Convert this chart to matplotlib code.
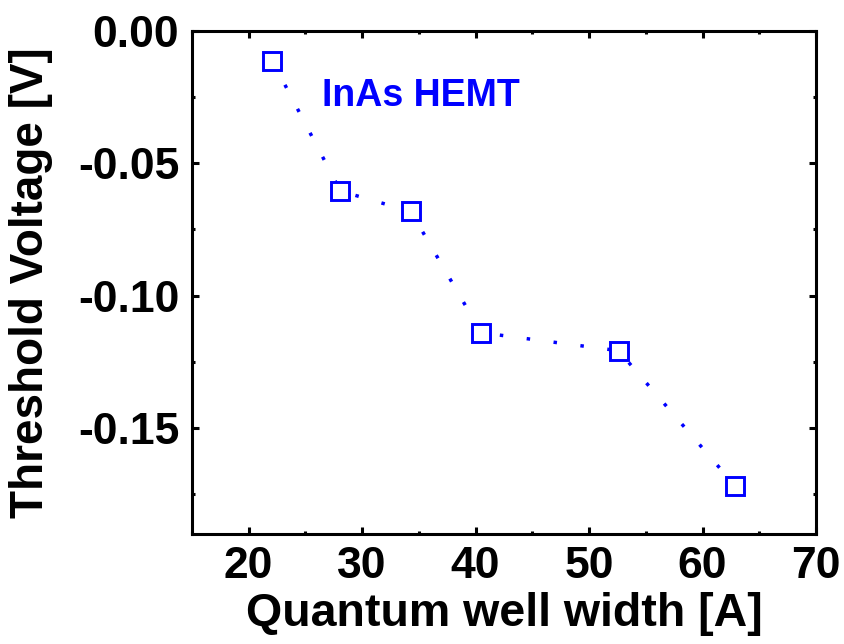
import numpy as np
import matplotlib
matplotlib.use("Agg")
import matplotlib.pyplot as plt
from matplotlib.ticker import MultipleLocator

# quantum well width [A] vs threshold voltage [V]
well_width = [22.1, 28.1, 34.3, 40.5, 52.6, 62.9]
v_th = [-0.0113, -0.0605, -0.0682, -0.114, -0.1208, -0.172]

plt.rcParams['font.family'] = ['Liberation Sans', 'DejaVu Sans']
plt.rcParams['font.weight'] = 'bold'

fig = plt.figure(figsize=(8.45, 6.44), dpi=100)
ax = fig.add_axes([0.227, 0.171, 0.7387, 0.781])

ax.plot(well_width, v_th, color="blue", linewidth=2.5, linestyle=(0, (1, 6.8)),
        marker="s", markersize=13, markeredgewidth=2.1, markerfacecolor="white",
        markeredgecolor="blue")

ax.text(0.208, 0.8515, "InAs HEMT", transform=ax.transAxes, color="blue",
        fontsize=27, fontweight="bold", va="baseline", ha="left")

ax.set_xlim(15, 70)
ax.set_ylim(-0.19, 0.0)
ax.xaxis.set_major_locator(MultipleLocator(10))
ax.xaxis.set_minor_locator(MultipleLocator(5))
ax.yaxis.set_major_locator(MultipleLocator(0.05))
ax.yaxis.set_minor_locator(MultipleLocator(0.025))
ax.set_yticks([0.0, -0.05, -0.10, -0.15])
ax.set_yticklabels(["0.00", "-0.05", "-0.10", "-0.15"])

ax.tick_params(which="both", direction="in", top=True, right=True, width=2.2)
ax.tick_params(which="major", length=5, labelsize=32, pad=9)
ax.tick_params(which="minor", length=2.5)
for s in ax.spines.values():
    s.set_linewidth(2.2)

ax.set_xlabel("Quantum well width [A]", fontsize=33.5, fontweight="bold")
ax.set_ylabel("Threshold Voltage [V]", fontsize=33, fontweight="bold")
ax.xaxis.set_label_coords(0.5, -0.115)
ax.yaxis.set_label_coords(-0.223, 0.5)

fig.savefig("out.png", dpi=100)
